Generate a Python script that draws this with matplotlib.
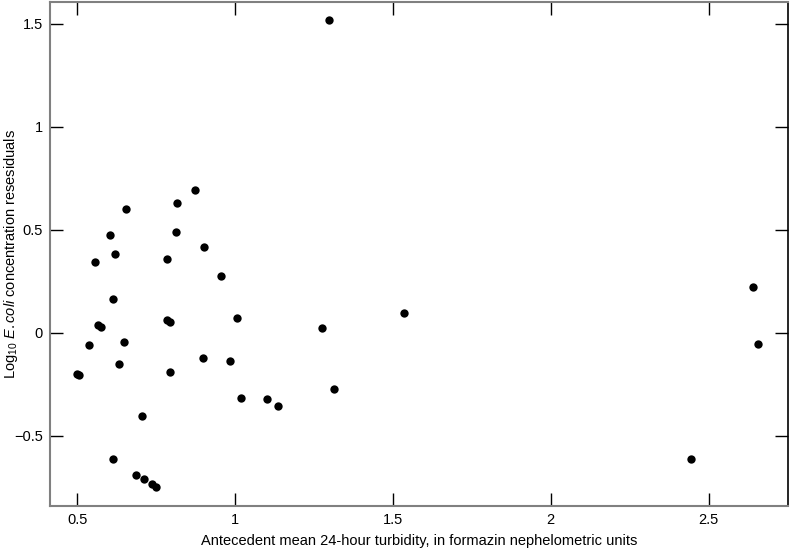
import matplotlib
matplotlib.use("Agg")
import matplotlib.pyplot as plt

plt.rcParams['font.family'] = ['Liberation Sans', 'DejaVu Sans']
plt.rcParams['mathtext.fontset'] = 'custom'
plt.rcParams['mathtext.rm'] = 'Liberation Sans'
plt.rcParams['mathtext.it'] = 'Liberation Sans:italic'

# turbidity (FNU) and log10 residuals
turbidity = [1.298, 0.874, 0.815, 0.653, 0.603, 0.812, 0.902, 0.618, 0.557, 0.784,
             0.955, 0.612, 1.005, 0.784, 0.794, 0.565, 0.574, 0.537, 0.648, 0.897,
             0.982, 0.631, 0.794, 0.499, 0.504, 1.018, 1.102, 1.135, 0.704, 0.613,
             0.687, 0.712, 0.737, 0.749, 1.276, 1.314, 1.535, 2.444, 2.640, 2.656]
residuals = [1.518, 0.691, 0.630, 0.600, 0.476, 0.487, 0.418, 0.380, 0.345, 0.359,
             0.274, 0.165, 0.073, 0.060, 0.052, 0.036, 0.028, -0.060, -0.047, -0.121,
             -0.136, -0.153, -0.191, -0.199, -0.204, -0.318, -0.323, -0.356, -0.403, -0.611,
             -0.689, -0.712, -0.736, -0.748, 0.023, -0.273, 0.096, -0.611, 0.222, -0.055]

xticks = [0.5, 1, 1.5, 2, 2.5]
xlabels = ['0.5', '1', '1.5', '2', '2.5']
yticks = [-0.5, 0, 0.5, 1, 1.5]
ylabels = ['\u22120.5', '0', '0.5', '1', '1.5']

fig = plt.figure(figsize=(7.9, 5.5), dpi=100)
ax = fig.add_axes([0.0633, 0.0805, 0.9342, 0.9159])
ax.plot(turbidity, residuals, 'o', color='black', markersize=6, markeredgewidth=0)

ax.set_xlim(0.413, 2.752)
ax.set_ylim(-0.84, 1.605)
ax.set_xticks(xticks)
ax.set_xticklabels(xlabels)
ax.set_yticks(yticks)
ax.set_yticklabels(ylabels)
ax.tick_params(direction='in', length=9.5, width=1, top=True, right=True,
               labelsize=10.5, colors='black', pad=5)

for side in ['left', 'bottom', 'top']:
    ax.spines[side].set_color('#808080')
    ax.spines[side].set_linewidth(1.5)
ax.spines['right'].set_color('black')
ax.spines['right'].set_linewidth(1.2)

ax.set_xlabel('Antecedent mean 24-hour turbidity, in formazin nephelometric units',
              fontsize=10.5, labelpad=5)
ax.set_ylabel(r'Log$_{10}$ $\mathit{E. coli}$ concentration resesiduals', fontsize=10.5)
ax.yaxis.set_label_coords(-0.04, 0.5)

fig.savefig('out.png', dpi=100)
